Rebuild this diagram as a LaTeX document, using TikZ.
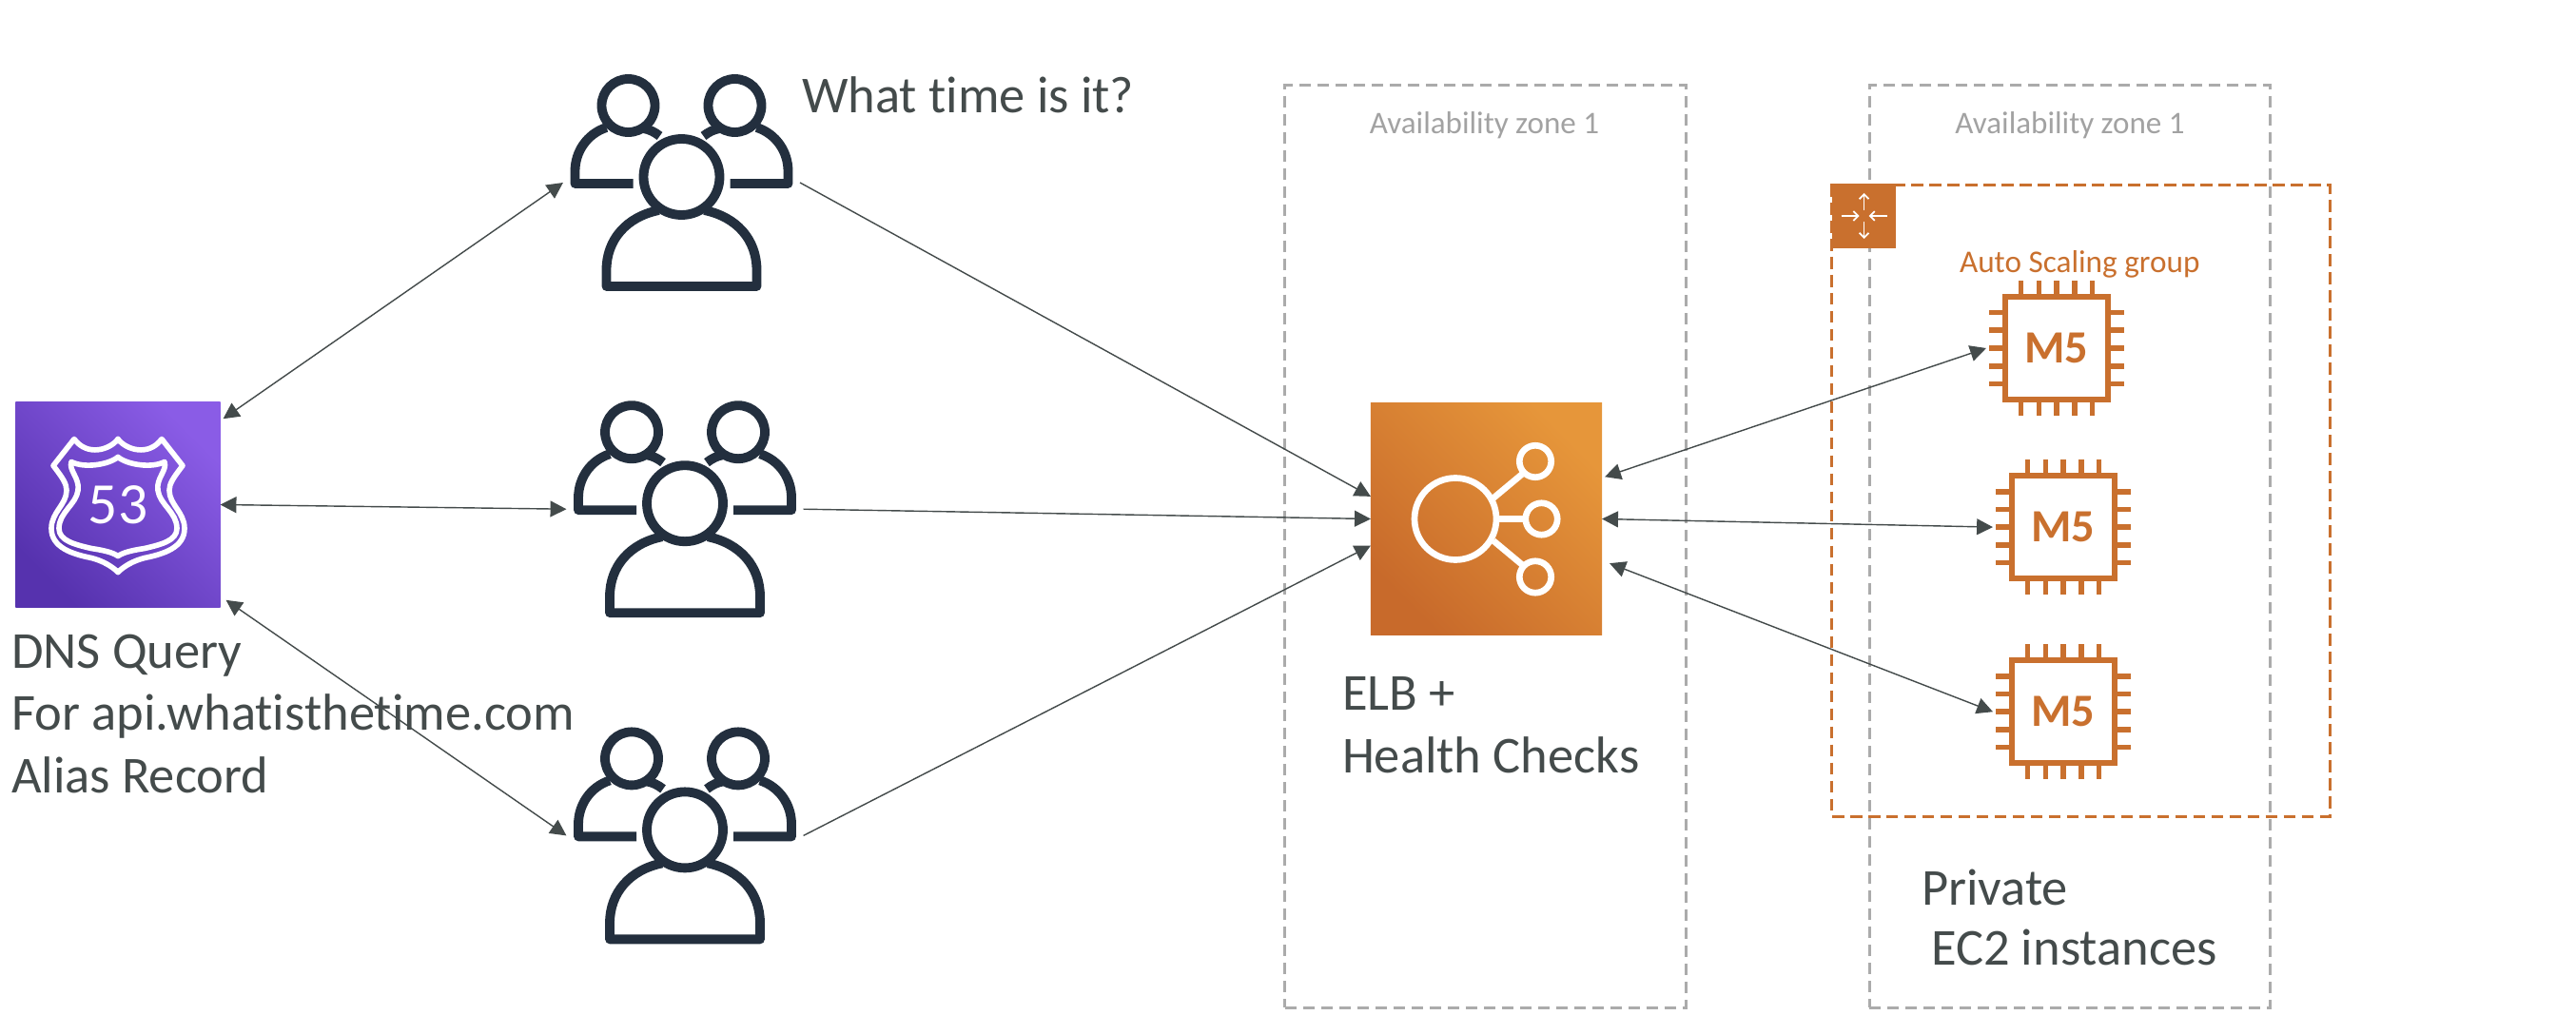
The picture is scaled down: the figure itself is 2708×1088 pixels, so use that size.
\documentclass[tikz,border=0pt]{standalone}
\usepackage{fontspec}
\setmainfont[Ligatures=NoCommon]{Carlito}
\usetikzlibrary{arrows.meta,positioning}

\definecolor{inkgray}{HTML}{444B4B}
\definecolor{navy}{HTML}{232F3E}
\definecolor{awsorange}{HTML}{C9702E}
\definecolor{zonegray}{HTML}{ABABAB}
\definecolor{dnslow}{HTML}{5632AE}
\definecolor{dnshigh}{HTML}{8A5CE6}
\definecolor{elblow}{HTML}{C86A2B}
\definecolor{elbhigh}{HTML}{E6963A}

\begin{document}
\begin{tikzpicture}[
  x=0.01cm, y=-0.01cm,
  caption/.style={inner sep=0pt, outer sep=0pt, anchor=base west, align=left, text=inkgray,
    font=\fontsize{15.5}{18.5}\selectfont},
  zonelabel/.style={inner sep=0pt, anchor=base, text=zonegray!95!black, font=\fontsize{9.4}{11}\selectfont},
  zone/.style={draw=zonegray, line width=0.8pt, dash pattern=on 3.4pt off 2pt, minimum width=4.21cm, minimum height=9.69cm, outer sep=0pt},
  scaling/.style={draw=awsorange, line width=0.8pt, dash pattern=on 3.6pt off 1.8pt, minimum width=5.23cm, minimum height=6.63cm, outer sep=0pt},
  service/.style={minimum size=2.15cm, inner sep=0pt, outer sep=0pt},
  crowdbox/.style={minimum width=2.49cm, minimum height=2.28cm, inner sep=0pt, outer sep=0pt},
  chipbox/.style={minimum size=1.48cm, inner sep=0pt, outer sep=0pt, text=awsorange, font=\fontsize{13.8}{16}\selectfont\bfseries},
  arrow/.style={{Triangle[length=4.8pt,width=4.8pt]}-{Triangle[length=4.8pt,width=4.8pt]}, draw=inkgray, fill=inkgray, line width=0.4pt},
  oneway/.style={-{Triangle[length=4.8pt,width=4.8pt]}, draw=inkgray, fill=inkgray, line width=0.4pt},
  crowd/.pic={
    \begin{scope}[draw=navy, line width=2.8pt, line join=round]
      \draw (0,-6) circle (40);
      \draw (-24,29) .. controls (-58,36) and (-79,60) .. (-79,92) -- (-79,109) -- (79,109) -- (79,92) .. controls (79,60) and (58,36) .. (24,29);
      \foreach \s in {1,-1} {
        \begin{scope}[xscale=\s]
          \draw (-56,-81) circle (28);
          \draw (-79,-58) .. controls (-100,-51) and (-112,-32) .. (-112,-12) -- (-112,1) -- (-51,1);
          \draw (-40,-57) .. controls (-34,-56) and (-28,-53) .. (-23,-49);
        \end{scope}
      }
    \end{scope}
  },
  shield/.pic={
    \foreach \s in {1,-1} {
      \begin{scope}[xscale=\s, draw=white, line width=1.6pt, line join=round, line cap=round]
        \draw (0,-69) .. controls (8,-58) and (32,-50) .. (46,-69) -- (68,-41) .. controls (58,-28) and (54,-22) .. (54,-15) .. controls (54,0) and (70,8) .. (70,25) .. controls (70,45) and (48,52) .. (28,56) .. controls (16,59) and (6,65) .. (0,71);
        \draw (0,-50) .. controls (10,-42) and (35,-38) .. (49,-45) .. controls (52,-36) and (40,-28) .. (42,-15) .. controls (44,0) and (62,8) .. (62,25) .. controls (62,38) and (45,42) .. (28,46) .. controls (15,48) and (6,50) .. (0,54);
      \end{scope}
    }
  },
  balancer/.pic={
    \begin{scope}[draw=white, line width=1.9pt]
      \draw (-32.5,0) circle (43);
      \draw (51.5,-60.5) circle (16.7);
      \draw (58,0) circle (16.7);
      \draw (51.5,61) circle (16.7);
      \draw (7.5,-22) -- (37.5,-47);
      \draw (12.5,0) -- (41,0);
      \draw (7.5,23) -- (37.5,48);
    \end{scope}
  },
  chip/.pic={
    \begin{scope}[draw=awsorange, line width=1.6pt]
      \draw (-54,-54) rectangle (54,54);
      \foreach \k in {-37.4,-18.7,0,18.7,37.4} {
        \draw (\k,-54) -- (\k,-71);
        \draw (\k,54) -- (\k,71);
        \draw (-54,\k) -- (-71,\k);
        \draw (54,\k) -- (71,\k);
      }
    \end{scope}
  },
  spread/.pic={
    \begin{scope}[draw=white, line width=0.5pt, -{Straight Barb[length=1.4pt,width=2.8pt]}]
      \draw (0,-6) -- (0,-24);
      \draw (0,6) -- (0,24);
      \draw (-24,0) -- (-5,0);
      \draw (24,0) -- (5,0);
    \end{scope}
  }
]
\useasboundingbox (0,0) rectangle (2708,1088);

% zones and scaling group
\node[zone] (zone1) at (1561.5,574.5) {};
\node[zone] (zone2) at (2176,574.5) {};
\node[scaling] (group) at (2187.5,526.5) {};
\node[minimum size=0.67cm, inner sep=0pt, fill=awsorange] (groupicon) at (1959.5,227) {};
\pic at (groupicon) {spread};

% services
\node[service, left color=dnslow, right color=dnshigh, shading angle=135, text=white, font=\fontsize{17.5}{20}\selectfont] (r53) at (124,530.5) {53};
\pic at (r53) {shield};
\node[service, minimum size=2.43cm, left color=elblow, right color=elbhigh, shading angle=135] (elb) at (1562.5,545.5) {};
\pic at (elb) {balancer};

% clients
\node[crowdbox] (users1) at (716.5,192) {};
\node[crowdbox, below=11.5mm of users1, xshift=1pt] (users2) {};
\node[crowdbox, below=11.5mm of users2] (users3) {};
\foreach \u in {users1,users2,users3} \pic at (\u) {crowd};

% instances
\node[chipbox] (m51) at (2162,366) {M5};
\node[chipbox, below=4mm of m51, xshift=2pt] (m52) {M5};
\node[chipbox, below=4.6mm of m52] (m53) {M5};
\foreach \m in {m51,m52,m53} \pic at (\m) {chip};

% labels
\node[caption] (dnstext) at (12,833) {DNS Query\\For api.whatisthetime.com\\Alias Record};
\node[caption] (asktext) at (843,119) {What time is it?};
\node[caption] (elbtext) at (1411,812) {ELB +\\Health Checks};
\node[caption] (ec2text) at (2020,1014) {Private\\[-0.85pt]\hspace*{2.85pt}EC2 instances};
\node[zonelabel] (zonetext1) at (1560.5,141) {Availability zone 1};
\node[zonelabel] (zonetext2) at (2176,141) {Availability zone 1};
\node[caption, text=awsorange, font=\fontsize{9.45}{11}\selectfont] (grouptext) at (2060,287) {Auto Scaling group};

\draw[arrow] ([shift={(3,0)}]r53.40) -- (users1.west);
\draw[arrow] (r53.east) -- (users2.west);
\draw[arrow] ([shift={(6,0)}]r53.-43) -- (users3.west);

\draw[oneway] (users1.east) -- (elb.169);
\draw[oneway] (users2.east) -- (elb.west);
\draw[oneway] (users3.east) -- (elb.193);

\draw[arrow] ([shift={(3,0)}]elb.20) -- (m51.west);
\draw[arrow] (elb.east) -- (m52.west);
\draw[arrow] ([shift={(8,0)}]elb.-21) -- (m53.west);
\end{tikzpicture}
\end{document}
